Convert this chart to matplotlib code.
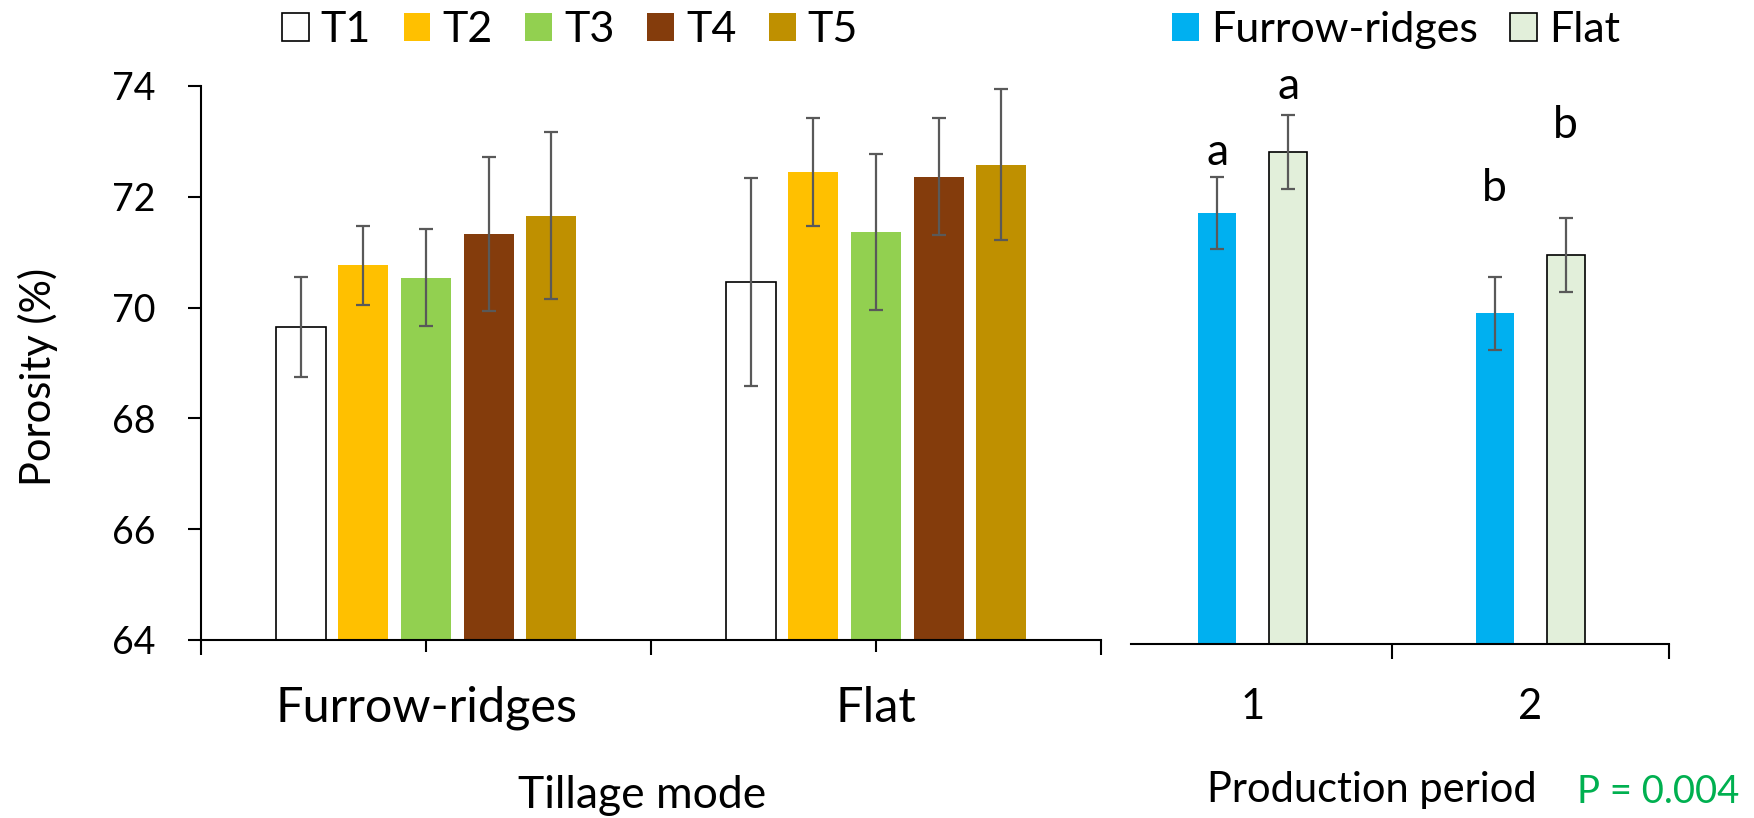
import numpy as np
import matplotlib
matplotlib.use("Agg")
import matplotlib.pyplot as plt

plt.rcParams['font.family'] = ['Lato', 'DejaVu Sans']

# ── données : porosité (%) ─────────────────────────────
tillage = ["Furrow-ridges", "Flat"]
treatments = ["T1", "T2", "T3", "T4", "T5"]
fr_means = [69.65, 70.76, 70.54, 71.33, 71.66]
fr_err = [0.91, 0.72, 0.875, 1.385, 1.51]
flat_means = [70.46, 72.45, 71.36, 72.36, 72.58]
flat_err = [1.88, 0.97, 1.405, 1.055, 1.365]

periods = ["1", "2"]
period_fr = [71.77, 69.96]
period_fr_err = [0.65, 0.66]
period_flat = [72.86, 71.01]
period_flat_err = [0.67, 0.67]
letters_fr = ["a", "b"]
letters_flat = ["a", "b"]
letters_fr_y = [72.85, 72.2]
letters_flat_y = [74.04, 73.35]

t_colors = ["white", "#FFC000", "#92D050", "#843C0C", "#BF9000"]
t_edges = ["black", "none", "none", "none", "none"]
fr_color = "#00B0F0"
flat_color = "#E2EFDA"
err_color = "#595959"

fig = plt.figure(figsize=(17.54, 8.18), dpi=100)

# ── panneau gauche ─────────────────────────────────────
ax1 = fig.add_axes([201/1754, 1-640/818, 900/1754, 554/818])
x = np.arange(len(tillage))
step, width = 0.139, 0.111
for i, t in enumerate(treatments):
    vals = [fr_means[i], flat_means[i]]
    errs = [fr_err[i], flat_err[i]]
    ax1.bar(x + (i-2)*step, vals, width, color=t_colors[i],
            edgecolor=t_edges[i], linewidth=1.2, label=t)
    ax1.errorbar(x + (i-2)*step, vals, yerr=errs, fmt="none", ecolor=err_color,
                 elinewidth=1.6, capsize=5, capthick=1.6)

ax1.set_ylim(64, 74)
ax1.set_xlim(-0.5, 1.5)
ax1.set_yticks([64, 66, 68, 70, 72, 74])
ax1.set_xticks(x)
ax1.set_xticklabels(tillage)
ax1.set_xticks([-0.5, 0.5, 1.5], minor=True)
ax1.spines[["top", "right"]].set_visible(False)
for s in ["left", "bottom"]:
    ax1.spines[s].set_linewidth(1.5)
ax1.tick_params(axis="y", length=9.5, width=1.5, pad=23, labelsize=27)
ax1.tick_params(axis="x", which="major", length=8.5, width=1.5, pad=24.5, labelsize=35)
ax1.tick_params(axis="x", which="minor", length=11, width=1.5)
fig.text(38/1754, 1-377/818, "Porosity (%)", rotation=90, ha="center", va="center",
         fontsize=30)

fig.legend(*ax1.get_legend_handles_labels(), loc="center", bbox_to_anchor=(570/1754, 1-30/818),
           ncol=5, frameon=False, fontsize=31, handlelength=0.62, handleheight=0.62,
           handletextpad=0.28, columnspacing=0.76)

# ── panneau droit ──────────────────────────────────────
ax2 = fig.add_axes([1114/1754, 1-644/818, 555/1754, 555/818])
xp = np.arange(len(periods))
off, w2 = 0.128, 0.137
ax2.bar(xp - off, period_fr, w2, color=fr_color, label="Furrow-ridges")
ax2.bar(xp + off, period_flat, w2, color=flat_color, edgecolor="black",
        linewidth=1.2, label="Flat")
ax2.errorbar(xp - off, period_fr, yerr=period_fr_err, fmt="none", ecolor=err_color,
             elinewidth=1.6, capsize=5, capthick=1.6)
ax2.errorbar(xp + off, period_flat, yerr=period_flat_err, fmt="none", ecolor=err_color,
             elinewidth=1.6, capsize=5, capthick=1.6)
for i in range(len(periods)):
    ax2.text(xp[i] - off, letters_fr_y[i], letters_fr[i], ha="center", va="center",
             fontsize=32, clip_on=False)
    ax2.text(xp[i] + off, letters_flat_y[i], letters_flat[i], ha="center", va="center",
             fontsize=32, clip_on=False)

ax2.set_ylim(64, 74)
ax2.set_xlim(-0.5, 1.5)
ax2.set_xticks(xp)
ax2.set_xticklabels(periods)
ax2.set_xticks([0.5, 1.5], minor=True)
ax2.tick_params(axis="x", which="major", length=0, pad=32, labelsize=30)
ax2.tick_params(axis="x", which="minor", length=11, width=1.5)
ax2.spines[["top", "right", "left"]].set_visible(False)
ax2.spines["bottom"].set_linewidth(1.5)
ax2.spines["bottom"].set_bounds(-0.44, 1.5)
ax2.set_yticks([])

fig.legend(*ax2.get_legend_handles_labels(), loc="center", bbox_to_anchor=(1396/1754, 1-30/818),
           ncol=2, frameon=False, fontsize=31, handlelength=0.62, handleheight=0.62,
           handletextpad=0.28, columnspacing=0.76)

# ── titres d'axes ──────────────────────────────────────
fig.text(642/1754, 1-795/818, "Tillage mode", ha="center", va="center", fontsize=32)
fig.text(1372/1754, 1-790/818, "Production period", ha="center", va="center", fontsize=30)
fig.text(1658/1754, 1-792/818, "P = 0.004", ha="center", va="center", fontsize=27.5,
         color="#00B050")

fig.savefig("out.png", dpi=100)
